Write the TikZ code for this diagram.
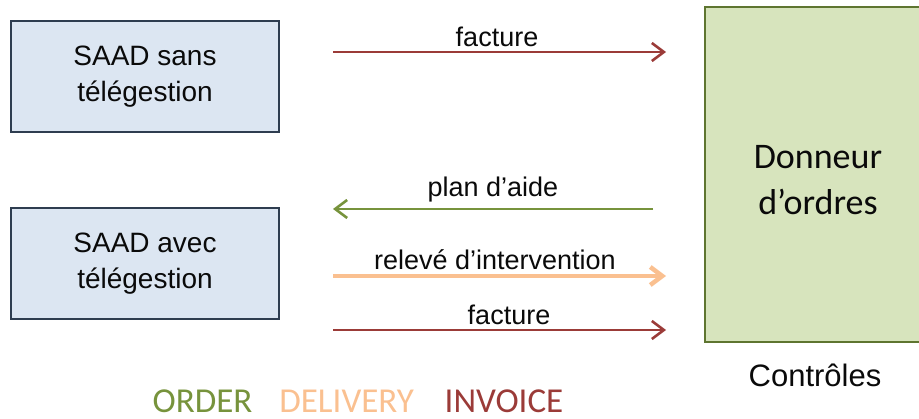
\documentclass[tikz,border=0pt]{standalone}
\usepackage{fontspec}
\setmainfont{Liberation Sans}
\newfontfamily\calib{Carlito}
\usetikzlibrary{arrows.meta}
\definecolor{boxfill}{HTML}{DCE6F2}
\definecolor{boxdraw}{HTML}{2E3D50}
\definecolor{grfill}{HTML}{D7E4BD}
\definecolor{grdraw}{HTML}{5E7530}
\definecolor{cinv}{HTML}{9B3B38}
\definecolor{cord}{HTML}{77933C}
\definecolor{cdel}{HTML}{FAC090}
\definecolor{txt}{HTML}{0A0A0A}
\tikzset{
  saad/.style={draw=boxdraw,line width=1.6pt,fill=boxfill,minimum width=268pt,minimum height=111pt,inner sep=0pt,align=center,text=txt,font=\fontsize{28}{36}\selectfont},
  donneur/.style={draw=grdraw,line width=1.6pt,fill=grfill,inner sep=0pt,align=center,text=txt,font=\calib\fontsize{36}{46}\selectfont},
  flow/.style={line width=2.6pt,-{Straight Barb[length=12pt,width=18pt]}},
  lbl/.style={anchor=base,inner sep=0pt,text=txt,font=\fontsize{27}{33}\selectfont},
  leg/.style={anchor=base,inner sep=0pt,font=\calib\fontsize{35}{40}\selectfont}
}
\begin{document}
\begin{tikzpicture}[x=1pt,y=-1pt]
\useasboundingbox (0,0) rectangle (919,419);
\node[saad] (s1) at (145,76.5) {SAAD sans\\télégestion};
\node[saad] (s2) at (145,263.5) {SAAD avec\\télégestion};
\path[donneur] (705,7) rectangle (925,342);
\node[donneur,draw=none,fill=none] (d) at (818,180) {Donneur\\d’ordres};
\node[lbl,font=\fontsize{31}{35}\selectfont] (ctrl) at (815,387) {Contrôles};
% arrows
\coordinate (a1s) at (333,52); \coordinate (a1e) at (666,52);
\coordinate (a2s) at (653,209); \coordinate (a2e) at (333,209);
\coordinate (a3s) at (333,276); \coordinate (a3e) at (666,276);
\coordinate (a4s) at (333,330); \coordinate (a4e) at (666,330);
\draw[flow,cinv] (a1s) -- (a1e);
\draw[flow,cord] (a2s) -- (a2e);
\draw[flow,cdel,line width=4.5pt] (a3s) -- (a3e);
\draw[flow,cinv] (a4s) -- (a4e);
\node[lbl] (l1) at (497,47) {facture};
\node[lbl] (l2) at (493,197) {plan d’aide};
\node[lbl] (l3) at (495,270) {relevé d’intervention};
\node[lbl] (l4) at (509,325) {facture};
% legend
\node[leg,text=cord] (o) at (202.5,413) {ORDER};
\node[leg,text=cdel] (dl) at (346.7,413) {DELIVERY};
\node[leg,text=cinv] (iv) at (504,413) {INVOICE};
\end{tikzpicture}
\end{document}
